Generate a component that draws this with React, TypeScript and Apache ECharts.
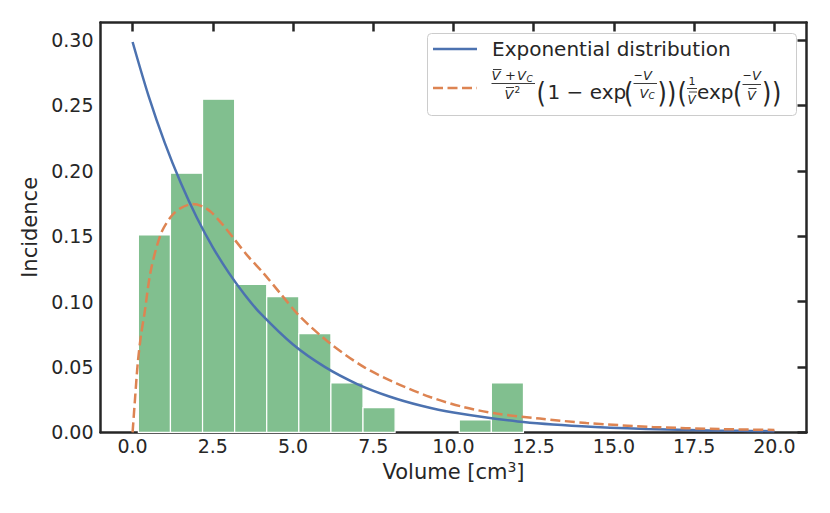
import React, { useEffect, useRef } from "react";
import * as echarts from "echarts";

// ---- data ----
const binEdges = [0.18, 1.18, 2.18, 3.18, 4.18, 5.18, 6.18, 7.18, 8.18, 9.18, 10.18, 11.18, 12.18];
const binDensity = [0.1509, 0.1981, 0.2547, 0.1132, 0.1038, 0.0755, 0.0377, 0.0189, 0, 0, 0.0094, 0.0377];

const expX = [0, 0.5, 1, 1.5, 2, 2.5, 3, 3.5, 4, 5, 6, 7, 8, 9, 10, 12, 14, 16, 18, 20];
const expY = [0.2985, 0.2571, 0.2215, 0.1908, 0.1643, 0.1415, 0.1219, 0.105, 0.0905, 0.0671, 0.0498, 0.0369, 0.0274, 0.0203, 0.0151, 0.0083, 0.0046, 0.0025, 0.0014, 0.0008];

const modelX = [0, 0.08, 0.16, 0.26, 0.37, 0.57, 0.885, 1.2, 1.5, 1.87, 2.2, 2.44, 2.8, 3.16, 3.6, 4.09, 4.61, 5.23, 6.16, 7.2, 8.24, 9.27, 10.3, 11.34, 12.69, 14.14, 16.2, 18.28, 20];
const modelY = [0, 0.027, 0.0526, 0.074, 0.0908, 0.124, 0.152, 0.165, 0.1715, 0.1745, 0.1725, 0.1686, 0.159, 0.148, 0.1345, 0.1214, 0.106, 0.0882, 0.0679, 0.05, 0.0373, 0.027, 0.0194, 0.0143, 0.0105, 0.0071, 0.0041, 0.0025, 0.0018];

const xTicks = [0, 2.5, 5, 7.5, 10, 12.5, 15, 17.5, 20];
const yTicks = [0, 0.05, 0.1, 0.15, 0.2, 0.25, 0.3];

const seriesNames = ["Histogram", "Exponential distribution", "Model"];

// ---- styles ----
const INK = "#262626";
const BLUE = "#4c72b0";
const ORANGE = "#dd8452";
const GREEN = "#81bf8f";
const FAMILY = '"DejaVu Sans"';
const DASH = [10, 4.5];

function txt(text: string, x: number, y: number, size: number, italic = false, scaleY = 1) {
  return {
    type: "text",
    z: 101,
    x,
    y,
    scaleY,
    style: {
      text,
      font: `${italic ? "italic " : ""}${size}px ${FAMILY}`,
      fill: INK,
      textAlign: "left",
      textVerticalAlign: "middle",
    },
  };
}

function paren(text: string, x: number) {
  return txt(text, x, 92.5, 24, false, 1.2);
}

function ln(x1: number, y1: number, x2: number, y2: number, color = INK, w = 0.9, dash?: number[]) {
  return {
    type: "line",
    z: 101,
    shape: { x1, y1, x2, y2 },
    style: { stroke: color, lineWidth: w, lineDash: dash },
  };
}

function legendElements() {
  const els: any[] = [];
  els.push({
    type: "rect",
    z: 100,
    shape: { x: 427.5, y: 33.5, width: 369, height: 82, r: 4 },
    style: { fill: "rgba(255,255,255,0.8)", stroke: "#cccccc", lineWidth: 1 },
  });
  els.push(ln(433, 49, 477, 49, BLUE, 2.5));
  els.push(txt("Exponential distribution", 492, 49, 20));
  els.push(ln(433, 88, 477, 88, ORANGE, 2.5, DASH));

  // fraction (V̄ + V_C) / V̄²
  els.push(txt("V", 491.5, 75.5, 13, true));
  els.push(ln(493, 69.5, 501.5, 69.5));
  els.push(txt("+", 505, 75.5, 13));
  els.push(txt("V", 517, 75.5, 13, true));
  els.push(txt("C", 526.5, 79, 9, true));
  els.push(ln(491.5, 83.5, 535, 83.5));
  els.push(txt("V", 504.5, 94, 13, true));
  els.push(ln(506, 87.5, 514, 87.5));
  els.push(txt("2", 514.5, 90, 9));

  // (1 − exp(
  els.push(paren("(", 536.5));
  els.push(txt("1 − exp", 547.5, 92.2, 20));
  els.push(paren("(", 624));

  // −V / V_C
  els.push(txt("−", 633.5, 75, 11));
  els.push(txt("V", 643, 75, 13, true));
  els.push(ln(633.5, 83.5, 657, 83.5));
  els.push(txt("V", 639.5, 93, 13, true));
  els.push(txt("C", 648.5, 96, 9, true));

  // ))(
  els.push(paren(")", 657.5));
  els.push(paren(")", 667));
  els.push(paren("(", 677.5));

  // 1 / V̄
  els.push(txt("1", 688.5, 81, 11));
  els.push(ln(687, 88.5, 697, 88.5));
  els.push(txt("V", 687.5, 99.5, 12, true));
  els.push(ln(689, 92, 697, 92));

  // exp(
  els.push(txt("exp", 697, 92.2, 20));
  els.push(paren("(", 733));

  // −V / V̄
  els.push(txt("−", 742.5, 75, 11));
  els.push(txt("V", 752, 75, 13, true));
  els.push(ln(742.5, 84.5, 761, 84.5));
  els.push(txt("V", 747, 95, 13, true));
  els.push(ln(748.5, 88.5, 756.5, 88.5));

  // ))
  els.push(paren(")", 762));
  els.push(paren(")", 772));
  return els;
}

export default function App() {
  const ref = useRef<HTMLDivElement>(null);

  useEffect(() => {
    document.body.style.margin = "0";
    if (!ref.current) return;
    const chart = echarts.init(ref.current, null, { renderer: "svg" });

    const axisLineStyle = { color: INK, width: 2.5 };
    const histData = binDensity.map((h, i) => [binEdges[i], binEdges[i + 1], h]);

    chart.setOption({
      animation: false,
      backgroundColor: "#ffffff",
      textStyle: { fontFamily: FAMILY, color: INK },
      grid: { left: 100.5, right: 23.5, top: 22.5, bottom: 80.7, containLabel: false },
      xAxis: [
        {
          type: "value",
          min: -1,
          max: 21,
          position: "bottom",
          name: "Volume [cm{sup|3}]",
          nameLocation: "middle",
          nameGap: 27,
          nameTextStyle: {
            fontSize: 21,
            lineHeight: 24,
            color: INK,
            fontFamily: FAMILY,
            rich: {
              sup: { fontSize: 14, lineHeight: 16, verticalAlign: "top", color: INK, fontFamily: FAMILY },
            },
          },
          axisLine: { show: true, onZero: false, lineStyle: axisLineStyle },
          axisTick: { show: false },
          splitLine: { show: false },
          axisLabel: {
            customValues: xTicks,
            fontSize: 19,
            color: INK,
            margin: 4,
            formatter: (v: number) => v.toFixed(1),
          },
        },
        {
          type: "value",
          min: -1,
          max: 21,
          position: "top",
          axisLine: { show: true, onZero: false, lineStyle: axisLineStyle },
          axisTick: { show: true, inside: true, length: 9, customValues: xTicks, lineStyle: { color: INK, width: 2.5 } },
          axisLabel: { show: false },
          splitLine: { show: false },
        },
      ],
      yAxis: [
        {
          type: "value",
          min: 0,
          max: 0.3134,
          position: "left",
          name: "Incidence",
          nameLocation: "middle",
          nameGap: 57.5,
          nameTextStyle: { fontSize: 21, color: INK, fontFamily: FAMILY },
          axisLine: { show: true, onZero: false, lineStyle: axisLineStyle },
          axisTick: { show: false },
          splitLine: { show: false },
          axisLabel: {
            customValues: yTicks,
            fontSize: 19,
            color: INK,
            margin: 7,
            formatter: (v: number) => v.toFixed(2),
          },
        },
        {
          type: "value",
          min: 0,
          max: 0.3134,
          position: "right",
          axisLine: { show: true, onZero: false, lineStyle: axisLineStyle },
          axisTick: { show: true, inside: true, length: 9, customValues: yTicks, lineStyle: { color: INK, width: 2.5 } },
          axisLabel: { show: false },
          splitLine: { show: false },
        },
      ],
      series: [
        {
          name: seriesNames[0],
          type: "custom",
          xAxisIndex: 0,
          yAxisIndex: 0,
          z: 1,
          encode: { x: [0, 1], y: 2 },
          data: histData,
          renderItem: (params: any, api: any) => {
            const x0 = api.value(0);
            const x1 = api.value(1);
            const h = api.value(2);
            if (!h) return { type: "group", children: [] };
            const p0 = api.coord([x0, h]);
            const p1 = api.coord([x1, 0]);
            return {
              type: "rect",
              shape: { x: p0[0], y: p0[1], width: p1[0] - p0[0], height: p1[1] - p0[1] },
              style: { fill: GREEN, stroke: "#ffffff", lineWidth: 1.2 },
            };
          },
        },
        {
          name: seriesNames[1],
          type: "line",
          xAxisIndex: 0,
          yAxisIndex: 0,
          z: 3,
          showSymbol: false,
          smooth: 0.3,
          data: expX.map((x, i) => [x, expY[i]]),
          lineStyle: { color: BLUE, width: 2.5 },
          itemStyle: { color: BLUE },
        },
        {
          name: seriesNames[2],
          type: "line",
          xAxisIndex: 0,
          yAxisIndex: 0,
          z: 4,
          showSymbol: false,
          smooth: 0.3,
          data: modelX.map((x, i) => [x, modelY[i]]),
          lineStyle: { color: ORANGE, width: 2.5, type: DASH },
          itemStyle: { color: ORANGE },
        },
      ],
      graphic: { elements: legendElements() },
    });

    return () => chart.dispose();
  }, []);

  return <div ref={ref} style={{ width: 830, height: 513 }} />;
}
